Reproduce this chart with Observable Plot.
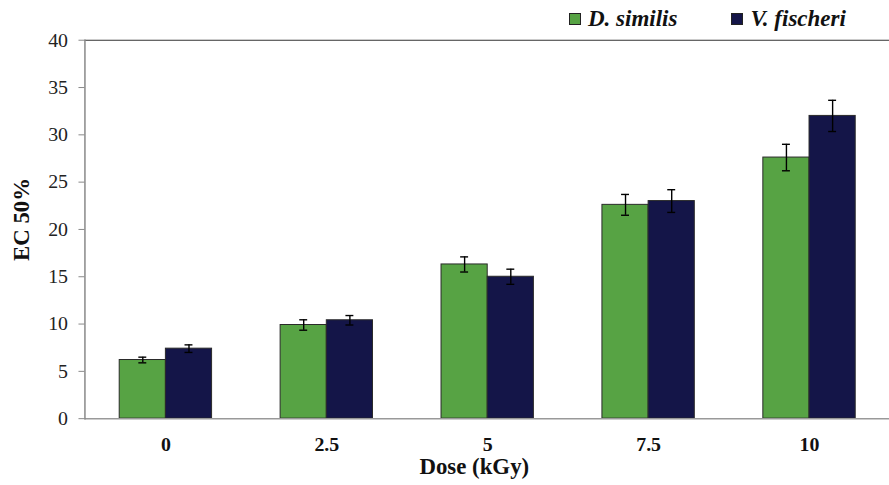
<!DOCTYPE html>
<html><head><meta charset="utf-8">
<script src="https://cdn.jsdelivr.net/npm/d3@7"></script>
<script src="https://cdn.jsdelivr.net/npm/@observablehq/plot@0.6"></script>
<style>
body{margin:0;overflow:hidden;background:#fff;}
#wrap{position:relative;width:889px;height:485px;overflow:hidden;}
#legend{position:absolute;top:6px;left:569px;font-family:"Liberation Serif","Times New Roman",serif;font-weight:bold;font-style:italic;font-size:23px;color:#111;display:flex;align-items:center;white-space:nowrap;}
#legend .sw{display:inline-block;width:10px;height:10px;border:1px solid #222;margin-right:7px;}
#legend .item{display:flex;align-items:center;margin-right:54px;}
</style></head><body><div id="wrap"><div id="legend"></div></div>
<script>
const doses = ["0", "2.5", "5", "7.5", "10"];
const series = ["D. similis", "V. fischeri"];
const similisMean = [6.2, 9.9, 16.3, 22.6, 27.6];
const similisErr = [0.3, 0.55, 0.8, 1.1, 1.4];
const fischeriMean = [7.4, 10.4, 15.0, 23.0, 32.0];
const fischeriErr = [0.4, 0.5, 0.8, 1.2, 1.65];
const yTicks = [0, 5, 10, 15, 20, 25, 30, 35, 40];
const colors = ["#57A344", "#141548"];

const sim = doses.map((d, i) => ({dose: d, series: series[0], value: similisMean[i], err: similisErr[i]}));
const fis = doses.map((d, i) => ({dose: d, series: series[1], value: fischeriMean[i], err: fischeriErr[i]}));

const band = 93, half = band / 2, cap = 4;
const serif = "'Liberation Serif', 'Times New Roman', serif";

const chart = Plot.plot({
  width: 895, height: 485,
  marginLeft: 85, marginRight: 0, marginTop: 40, marginBottom: 64,
  style: {fontFamily: serif, background: "#fff"},
  x: {type: "band", domain: doses, paddingInner: 0.426, paddingOuter: 0.213, axis: null},
  y: {domain: [0, 40], axis: null},
  marks: [
    Plot.barY(sim, {x: "dose", y: "value", fill: colors[0], stroke: "#2a2a2a", strokeWidth: 1, insetRight: half}),
    Plot.barY(fis, {x: "dose", y: "value", fill: colors[1], stroke: "#2a2a2a", strokeWidth: 1, insetLeft: half}),
    Plot.ruleX(sim, {x: "dose", y1: d => d.value - d.err, y2: d => d.value + d.err, dx: -half / 2, stroke: "#000", strokeWidth: 1.4}),
    Plot.ruleX(fis, {x: "dose", y1: d => d.value - d.err, y2: d => d.value + d.err, dx: half / 2, stroke: "#000", strokeWidth: 1.4}),
    Plot.tickY(sim, {x: "dose", y: d => d.value - d.err, insetLeft: half / 2 - cap, insetRight: band - half / 2 - cap, stroke: "#000", strokeWidth: 1.4}),
    Plot.tickY(sim, {x: "dose", y: d => d.value + d.err, insetLeft: half / 2 - cap, insetRight: band - half / 2 - cap, stroke: "#000", strokeWidth: 1.4}),
    Plot.tickY(fis, {x: "dose", y: d => d.value - d.err, insetLeft: band - half / 2 - cap, insetRight: half / 2 - cap, stroke: "#000", strokeWidth: 1.4}),
    Plot.tickY(fis, {x: "dose", y: d => d.value + d.err, insetLeft: band - half / 2 - cap, insetRight: half / 2 - cap, stroke: "#000", strokeWidth: 1.4}),
    Plot.ruleY([0], {stroke: "#999", strokeWidth: 1.5}),
    Plot.ruleY([40], {stroke: "#333", strokeWidth: 1.2}),
    Plot.frame({anchor: "left", stroke: "#888", strokeWidth: 1.5}),
    Plot.axisY({ticks: yTicks, tickSize: 6, tickPadding: 11, stroke: "#888", fill: "#222", fontSize: 20, fontFamily: serif, tickFormat: d => String(d), label: null}),
    Plot.axisX({tickSize: 0, tickPadding: 18, fontSize: 20, fontWeight: "bold", fontFamily: serif, fill: "#111", label: null}),
    Plot.text(["Dose (kGy)"], {frameAnchor: "bottom", lineAnchor: "middle", textAnchor: "middle", dx: -13, dy: 48, fontSize: 23, fontWeight: "bold", fontFamily: serif, fill: "#111"}),
    Plot.text(["EC 50%"], {frameAnchor: "left", lineAnchor: "middle", textAnchor: "middle", dx: -64, dy: -10, rotate: -90, fontSize: 23, fontWeight: "bold", fontFamily: serif, fill: "#111"})
  ]
});
document.getElementById("wrap").appendChild(chart);

const legend = document.getElementById("legend");
series.forEach((s, i) => {
  const it = document.createElement("span");
  it.className = "item";
  const sw = document.createElement("span");
  sw.className = "sw";
  sw.style.background = colors[i];
  it.appendChild(sw);
  it.appendChild(document.createTextNode(s));
  legend.appendChild(it);
});
</script></body></html>
